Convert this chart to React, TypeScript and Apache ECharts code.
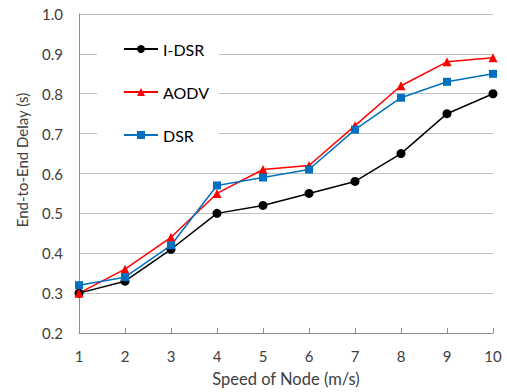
import React, { useEffect, useRef } from "react";
import * as echarts from "echarts";

const speeds = [1, 2, 3, 4, 5, 6, 7, 8, 9, 10];
const idsr = [0.30, 0.33, 0.41, 0.50, 0.52, 0.55, 0.58, 0.65, 0.75, 0.80];
const aodv = [0.30, 0.36, 0.44, 0.55, 0.61, 0.62, 0.72, 0.82, 0.88, 0.89];
const dsr = [0.32, 0.34, 0.42, 0.57, 0.59, 0.61, 0.71, 0.79, 0.83, 0.85];
const seriesNames = ["I-DSR", "AODV", "DSR"];

const FONT = "Lato";

export default function App() {
  const ref = useRef<HTMLDivElement>(null);
  useEffect(() => {
    if (!ref.current) return;
    const chart = echarts.init(ref.current, undefined, { renderer: "svg" });
    const mk = (vals: number[]) => speeds.map((s, i) => [s, vals[i]]);
    const base = (name: string, vals: number[], color: string, symbol: string, size: number) => ({
      name,
      type: "line",
      data: mk(vals),
      symbol,
      symbolSize: size,
      showSymbol: true,
      lineStyle: { color, width: 1.5 },
      itemStyle: { color },
      z: 3,
    });
    chart.setOption({
      animation: false,
      backgroundColor: "#fff",
      textStyle: { fontFamily: FONT },
      grid: { left: 79, right: 14, top: 14, bottom: 57 },
      legend: {
        orient: "vertical",
        left: 97,
        top: 28,
        padding: [13, 10, 13, 26],
        itemGap: 27,
        itemWidth: 34,
        itemHeight: 10,
        backgroundColor: "#fff",
        data: seriesNames,
        textStyle: { fontFamily: FONT, fontSize: 16, color: "#000" },
      },
      xAxis: {
        type: "value",
        min: 1,
        max: 10,
        interval: 1,
        name: "Speed of Node (m/s)",
        nameLocation: "middle",
        nameGap: 37,
        nameTextStyle: { fontFamily: FONT, fontSize: 16.5, color: "#404040", verticalAlign: "top" },
        axisLine: { show: true, lineStyle: { color: "#8c8c8c", width: 1 } },
        axisTick: { show: true, inside: true, length: 5, lineStyle: { color: "#8c8c8c" } },
        axisLabel: { fontFamily: FONT, fontSize: 15, color: "#404040", margin: 15 },
        splitLine: { show: false },
      },
      yAxis: {
        type: "value",
        min: 0.2,
        max: 1.0,
        interval: 0.1,
        name: "End-to-End Delay (s)",
        nameLocation: "middle",
        nameGap: 50,
        nameTextStyle: { fontFamily: FONT, fontSize: 15, color: "#404040", padding: [0, 0, 0, 27] },
        axisLine: { show: true, lineStyle: { color: "#8c8c8c", width: 1 } },
        axisTick: { show: false },
        axisLabel: {
          fontFamily: FONT,
          fontSize: 15,
          color: "#404040",
          margin: 16,
          formatter: (v: number) => v.toFixed(1),
        },
        splitLine: { show: true, lineStyle: { color: "#c0c0c0", width: 1.2 } },
      },
      series: [
        base("I-DSR", idsr, "#000000", "circle", 9),
        base("AODV", aodv, "#ff0000", "triangle", 9),
        base("DSR", dsr, "#0070c0", "rect", 8),
      ],
    });
    return () => chart.dispose();
  }, []);
  return <div ref={ref} style={{ width: 507, height: 392, position: "absolute", left: 0, top: 0 }} />;
}
